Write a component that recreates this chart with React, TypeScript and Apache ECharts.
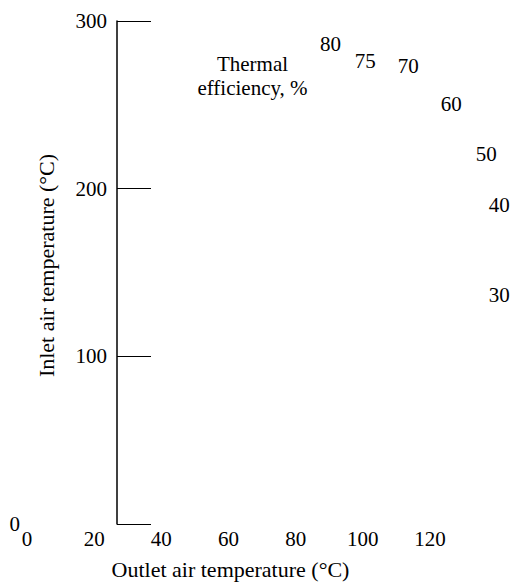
import React, { useEffect, useRef } from "react";
import * as echarts from "echarts";

const xTicks = [0, 20, 40, 60, 80, 100, 120];
const yTicks = [0, 100, 200, 300];
const efficiencyLabels = ["80", "75", "70", "60", "50", "40", "30"];
const efficiencyX = [90.5, 100.9, 113.7, 126.5, 136.9, 140.8, 140.8];
const efficiencyY = [285.8, 275.7, 272.7, 250, 220.4, 190, 136];
const legendText = "Thermal\nefficiency, %";
const legendPos = [67.3, 266.8];

const FONT = "Liberation Serif";

export default function App() {
  const ref = useRef<HTMLDivElement>(null);
  useEffect(() => {
    if (!ref.current) return;
    const chart = echarts.init(ref.current, null, { renderer: "svg" });
    const pts = efficiencyLabels.map((n, i) => ({ name: n, value: [efficiencyX[i], efficiencyY[i]] }));
    const txt = {
      color: "#000",
      fontFamily: FONT,
      fontSize: 21,
      fontWeight: "normal",
      textBorderWidth: 0,
      opacity: 1,
    };
    const lbl = {
      show: true,
      position: [0, 0],
      align: "center",
      verticalAlign: "middle",
      ...txt,
      formatter: (p: any) =>
        String(p.name)
          .split("\n")
          .map((s: string) => "{t|" + s + "}")
          .join("\n"),
      rich: { t: { ...txt, lineHeight: 24 } },
    };
    chart.setOption({
      animation: false,
      textStyle: { fontFamily: FONT, color: "#000" },
      grid: { left: 27, right: 84, top: 21, bottom: 60, containLabel: false },
      xAxis: {
        type: "value",
        min: xTicks[0],
        max: xTicks[xTicks.length - 1],
        interval: 20,
        axisLine: { show: false },
        axisTick: { show: false },
        splitLine: { show: false },
        axisLabel: { color: "#000", fontFamily: FONT, fontSize: 21, margin: 4 },
        name: "Outlet air temperature (°C)",
        nameLocation: "middle",
        nameGap: 34,
        nameTextStyle: { color: "#000", fontFamily: FONT, fontSize: 22, padding: [0, 0, 0, 4] },
      },
      yAxis: [
        {
          type: "value",
          min: yTicks[0],
          max: yTicks[yTicks.length - 1],
          interval: 100,
          position: "left",
          offset: -90,
          axisLine: { show: true, lineStyle: { color: "#000", width: 1.5 } },
          axisTick: { show: true, inside: true, length: 34, lineStyle: { color: "#000", width: 1.2 } },
          splitLine: { show: false },
          axisLabel: {
            color: "#000",
            fontFamily: FONT,
            fontSize: 21,
            margin: 10,
            formatter: (v: number) => (v === 0 ? "" : String(v)),
          },
          name: "Inlet air temperature (°C)",
          nameLocation: "middle",
          nameGap: 60,
          nameTextStyle: { color: "#000", fontFamily: FONT, fontSize: 22, padding: [0, 0, 0, 14] },
        },
        {
          type: "value",
          min: yTicks[0],
          max: yTicks[yTicks.length - 1],
          interval: 100,
          position: "left",
          offset: 0,
          axisLine: { show: false },
          axisTick: { show: false },
          splitLine: { show: false },
          axisLabel: {
            color: "#000",
            fontFamily: FONT,
            fontSize: 21,
            margin: 7,
            padding: [0, 0, 12, 0],
            formatter: (v: number) => (v === 0 ? "0" : ""),
          },
        },
      ],
      series: [
        {
          type: "scatter",
          yAxisIndex: 0,
          symbolSize: 1,
          itemStyle: { color: "rgba(0,0,0,0)" },
          data: pts,
          clip: false,
          label: lbl,
          emphasis: { disabled: true },
        },
        {
          type: "scatter",
          yAxisIndex: 0,
          symbolSize: 1,
          itemStyle: { color: "rgba(0,0,0,0)" },
          clip: false,
          data: [{ name: legendText, value: legendPos }],
          label: lbl,
          emphasis: { disabled: true },
        },
      ],
    });
    return () => chart.dispose();
  }, []);
  return (
    <div
      ref={ref}
      style={{ position: "absolute", left: 0, top: 0, width: 514, height: 585 }}
    />
  );
}
